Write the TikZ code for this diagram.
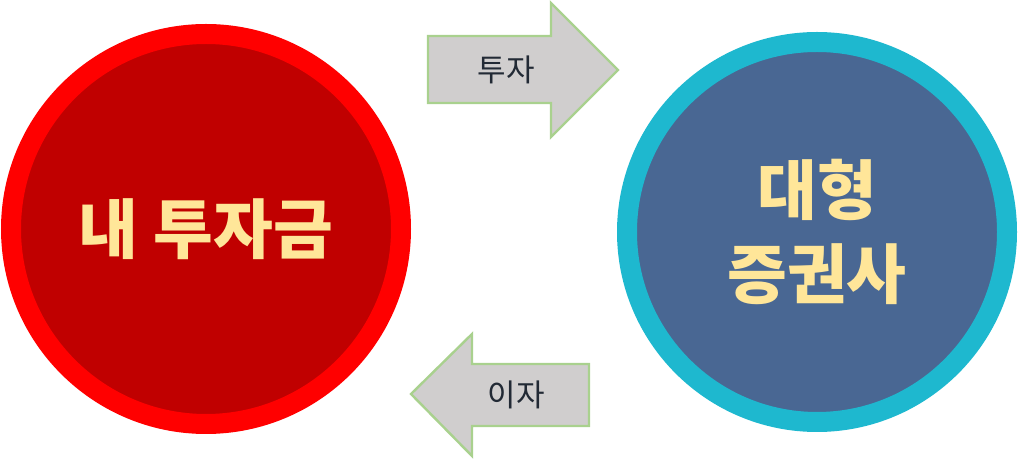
\documentclass[tikz,border=0pt]{standalone}
\usepackage{fontspec}
\newfontfamily\krfont{Noto Sans CJK KR}
\definecolor{ringred}{RGB}{255, 0, 0}
\definecolor{darkred}{RGB}{192, 0, 0}
\definecolor{ringcyan}{RGB}{30, 184, 207}
\definecolor{slateblue}{RGB}{73, 103, 147}
\definecolor{paleyellow}{RGB}{255, 230, 153}
\definecolor{arrowgray}{RGB}{208, 206, 206}
\definecolor{arrowgreen}{RGB}{169, 209, 142}
\definecolor{labeldark}{RGB}{34, 42, 53}
\usetikzlibrary{positioning}

\begin{document}
\begin{tikzpicture}[x=0.5pt,y=-0.5pt,
    bigcircle/.style={circle,inner sep=0pt,align=center,text=paleyellow,
        font=\krfont\bfseries\fontsize{32.5}{42}\selectfont},
    flowarrow/.style={fill=arrowgray,draw=arrowgreen,line width=1.2pt,line join=miter},
    arrowlabel/.style={inner sep=0pt,text=labeldark,font=\krfont\fontsize{15.5}{18}\selectfont}]
    \useasboundingbox (0,0) rectangle (1018,459);
    \node[bigcircle,fill=darkred,draw=ringred,line width=10pt,minimum size=195pt]
        (money) at (206,229) {내 투자금};
    \node[bigcircle,fill=slateblue,draw=ringcyan,line width=10pt,minimum size=190pt]
        (broker) at (817,232) {대형\\증권사};
    % invest arrow
    \draw[flowarrow] (428,36) -- (551,36) -- (551,3) -- (618,70) -- (551,137)
        -- (551,103) -- (428,103) -- cycle;
    \node[arrowlabel] (invest) at (506,70) {투자};
    % interest arrow
    \draw[flowarrow] (589,364) -- (472,364) -- (472,334) -- (411,394) -- (472,456)
        -- (472,426) -- (589,426) -- cycle;
    \node[arrowlabel] (interest) at (516,395) {이자};
\end{tikzpicture}
\end{document}
